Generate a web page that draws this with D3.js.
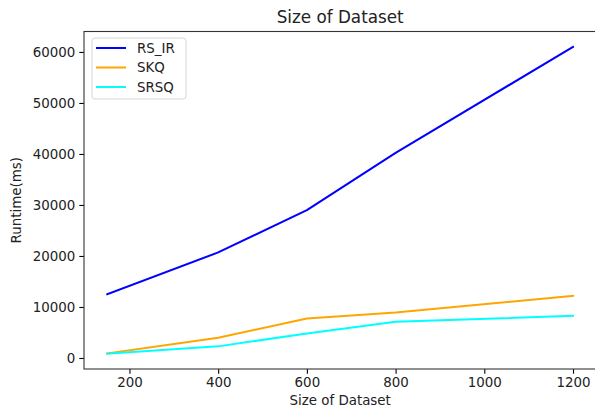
<!DOCTYPE html>
<html>
<head>
<meta charset="utf-8">
<script src="https://cdn.jsdelivr.net/npm/d3@7"></script>
<style>
  body { margin: 0; background: #fff; }
  svg { display: block; font-family: "DejaVu Sans", sans-serif; }
</style>
</head>
<body>
<div id="chart"></div>
<script>
// runtime vs dataset size, three methods

const sizes = [150, 400, 600, 800, 1200];
const rsIr = [12500, 20700, 29000, 40200, 61000];
const skq = [900, 3960, 7750, 8920, 12170];
const srsq = [850, 2280, 4820, 7100, 8260];

const seriesNames = ["RS_IR", "SKQ", "SRSQ"];
const seriesColors = ["#0000ff", "#ffa500", "#00ffff"];
const xTicks = [200, 400, 600, 800, 1000, 1200];
const yTicks = [0, 10000, 20000, 30000, 40000, 50000, 60000];

const width = 595, height = 410;
const plot = { left: 84, right: 596.3, top: 31.5, bottom: 369 };

const svg = d3.select("#chart").append("svg")
  .attr("width", width)
  .attr("height", height);

// matplotlib-ish 5% margins
const xPad = (d3.max(sizes) - d3.min(sizes)) * 0.05;
const allY = rsIr.concat(skq, srsq);
const yPad = (d3.max(allY) - d3.min(allY)) * 0.05;

const x = d3.scaleLinear()
  .domain([d3.min(sizes) - xPad, d3.max(sizes) + xPad])
  .range([plot.left, plot.right]);

const y = d3.scaleLinear()
  .domain([d3.min(allY) - yPad, d3.max(allY) + yPad])
  .range([plot.bottom, plot.top]);

// lines
const series = [rsIr, skq, srsq];
const line = d3.line()
  .x((d, i) => x(sizes[i]))
  .y(d => y(d));

svg.append("g")
  .selectAll("path")
  .data(series)
  .join("path")
  .attr("d", d => line(d))
  .attr("fill", "none")
  .attr("stroke", (d, i) => seriesColors[i])
  .attr("stroke-width", 2)
  .attr("stroke-linejoin", "round")
  .attr("stroke-linecap", "square");

// axes
const xAxis = svg.append("g")
  .attr("transform", `translate(0,${plot.bottom})`)
  .call(d3.axisBottom(x).tickValues(xTicks).tickSize(4.7).tickPadding(4).tickFormat(d3.format("d")));

const yAxis = svg.append("g")
  .attr("transform", `translate(${plot.left},0)`)
  .call(d3.axisLeft(y).tickValues(yTicks).tickSize(4.7).tickPadding(4).tickFormat(d3.format("d")));

[xAxis, yAxis].forEach(a => {
  a.select(".domain").remove();
  a.selectAll(".tick line").attr("stroke", "#000").attr("stroke-width", 1.1);
  a.selectAll(".tick text")
    .attr("fill", "#222")
    .style("font-size", "13.4px")
    .style("font-family", "'DejaVu Sans', sans-serif");
});

// spines
svg.append("rect")
  .attr("x", plot.left)
  .attr("y", plot.top)
  .attr("width", plot.right - plot.left)
  .attr("height", plot.bottom - plot.top)
  .attr("fill", "none")
  .attr("stroke", "#333")
  .attr("stroke-width", 1.1);

// title and axis labels
svg.append("text")
  .attr("x", (plot.left + plot.right) / 2)
  .attr("y", 23)
  .attr("text-anchor", "middle")
  .style("font-size", "16.8px")
  .attr("fill", "#222")
  .text("Size of Dataset");

svg.append("text")
  .attr("x", (plot.left + plot.right) / 2)
  .attr("y", 405)
  .attr("text-anchor", "middle")
  .style("font-size", "13.4px")
  .attr("fill", "#222")
  .text("Size of Dataset");

svg.append("text")
  .attr("transform", `translate(21,${(plot.top + plot.bottom) / 2}) rotate(-90)`)
  .attr("text-anchor", "middle")
  .style("font-size", "13.4px")
  .attr("fill", "#222")
  .text("Runtime(ms)");

// legend
const legend = svg.append("g").attr("transform", "translate(92,38)");

legend.append("rect")
  .attr("width", 94)
  .attr("height", 61)
  .attr("rx", 3)
  .attr("fill", "#fff")
  .attr("fill-opacity", 0.8)
  .attr("stroke", "#d6d6d6");

const item = legend.selectAll("g.item")
  .data(seriesNames)
  .join("g")
  .attr("class", "item")
  .attr("transform", (d, i) => `translate(0,${10 + i * 19.5})`);

item.append("line")
  .attr("x1", 4).attr("x2", 34)
  .attr("stroke", (d, i) => seriesColors[i])
  .attr("stroke-width", 2);

item.append("text")
  .attr("x", 45)
  .attr("dy", "0.35em")
  .style("font-size", "13.4px")
  .attr("fill", "#222")
  .text(d => d);
</script>
</body>
</html>
